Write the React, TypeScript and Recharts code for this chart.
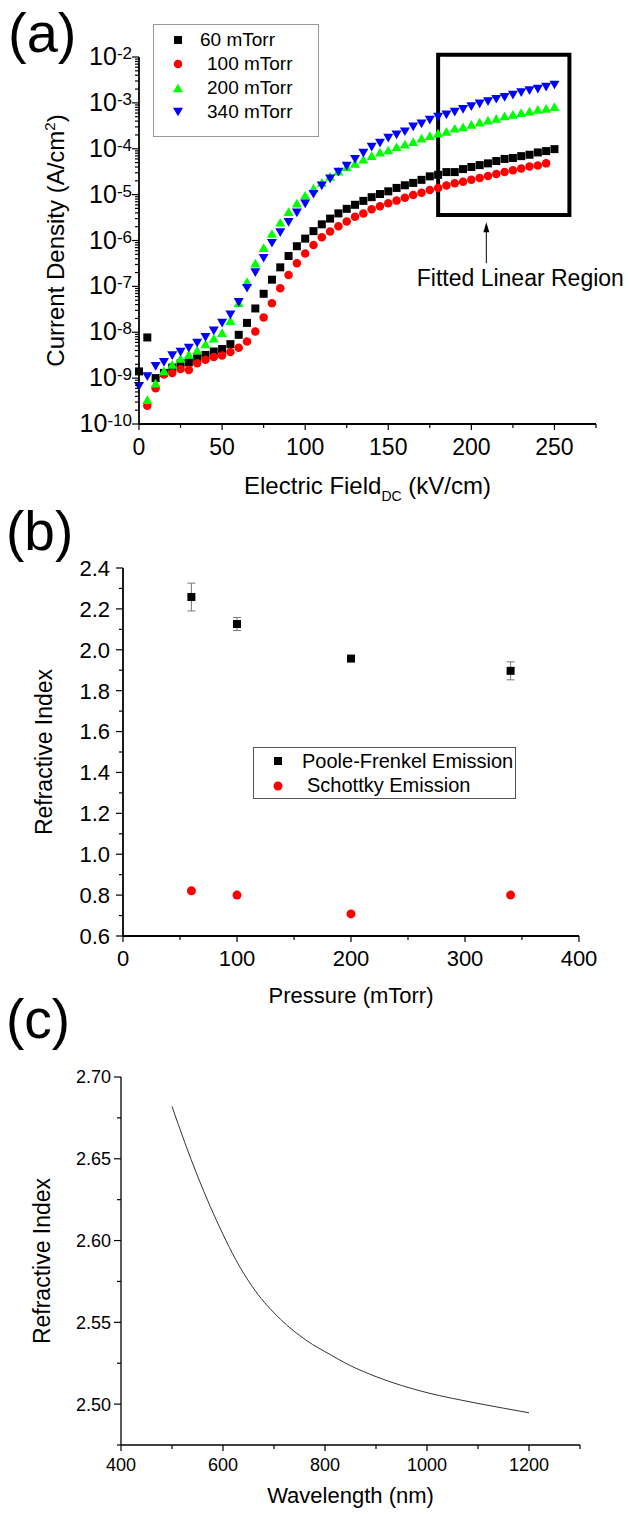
import React from "react";
import { ScatterChart, Scatter, LineChart, Line, XAxis, YAxis, ReferenceArea, ReferenceLine, ErrorBar, Label, Legend } from "recharts";

const FONT = "'Liberation Sans', Arial, Helvetica, sans-serif";

// (a) current density vs DC field
const fieldKV = [0, 5, 10, 15, 20, 25, 30, 35, 40, 45, 50, 55, 60, 65, 70, 75, 80, 85, 90, 95, 100, 105, 110, 115, 120, 125, 130, 135, 140, 145, 150, 155, 160, 165, 170, 175, 180, 185, 190, 195, 200, 205, 210, 215, 220, 225, 230, 235, 240, 245, 250];
const j60 = [1.4e-9, 7.7e-9, 1.0e-9, 1.3e-9, 1.7e-9, 2.1e-9, 2.2e-9, 2.7e-9, 3.2e-9, 3.8e-9, 4.3e-9, 5.5e-9, 8.8e-9, 1.6e-8, 3.3e-8, 6.9e-8, 1.4e-7, 2.6e-7, 4.6e-7, 7.5e-7, 1.1e-6, 1.6e-6, 2.25e-6, 3.0e-6, 3.9e-6, 4.9e-6, 6.0e-6, 7.3e-6, 8.8e-6, 1.03e-5, 1.18e-5, 1.4e-5, 1.6e-5, 1.8e-5, 2.1e-5, 2.5e-5, 2.7e-5, 3.1e-5, 3.1e-5, 3.6e-5, 4.0e-5, 4.4e-5, 4.8e-5, 5.4e-5, 6.0e-5, 6.3e-5, 6.9e-5, 7.4e-5, 8.3e-5, 8.9e-5, 9.8e-5];
const j100 = [null, 2.5e-10, 6.0e-10, 1.2e-9, 1.3e-9, 1.58e-9, 1.5e-9, 2.1e-9, 2.5e-9, 2.9e-9, 3.1e-9, 3.7e-9, 4.6e-9, 6.3e-9, 1.04e-8, 2.1e-8, 4.3e-8, 9.1e-8, 1.78e-7, 3.2e-7, 5.2e-7, 8.0e-7, 1.18e-6, 1.58e-6, 2.05e-6, 2.6e-6, 3.3e-6, 3.9e-6, 4.8e-6, 5.6e-6, 6.5e-6, 7.4e-6, 8.5e-6, 9.8e-6, 1.1e-5, 1.26e-5, 1.4e-5, 1.58e-5, 1.77e-5, 1.9e-5, 2.1e-5, 2.3e-5, 2.55e-5, 2.8e-5, 3.1e-5, 3.4e-5, 3.7e-5, 4.1e-5, 4.3e-5, 4.8e-5, null];
const j200 = [null, 3.4e-10, 7.8e-10, 1.44e-9, 2.0e-9, 2.7e-9, 3.3e-9, 4.1e-9, 5.6e-9, 7.4e-9, 9.8e-9, 1.8e-8, 4.4e-8, 1.27e-7, 3.2e-7, 7.0e-7, 1.42e-6, 2.5e-6, 4.25e-6, 6.5e-6, 9.7e-6, 1.38e-5, 1.85e-5, 2.5e-5, 3.25e-5, 4.05e-5, 4.8e-5, 5.9e-5, 7.1e-5, 8.4e-5, 9.4e-5, 1.11e-4, 1.26e-4, 1.43e-4, 1.7e-4, 1.94e-4, 2.18e-4, 2.4e-4, 2.8e-4, 3.0e-4, 3.4e-4, 3.8e-4, 4.2e-4, 4.6e-4, 5.2e-4, 5.6e-4, 6.1e-4, 6.6e-4, 7.2e-4, 7.6e-4, 8.3e-4];
const j340 = [6.6e-10, 1.08e-9, 1.8e-9, 2.2e-9, 3.1e-9, 3.7e-9, 4.5e-9, 5.8e-9, 7.7e-9, 1.07e-8, 1.58e-8, 2.4e-8, 4.5e-8, 9.1e-8, 2.0e-7, 4.1e-7, 8.7e-7, 1.48e-6, 2.48e-6, 4.0e-6, 6.3e-6, 1.02e-5, 1.55e-5, 2.2e-5, 3.1e-5, 4.2e-5, 5.9e-5, 8.0e-5, 1.08e-4, 1.32e-4, 1.7e-4, 2.0e-4, 2.35e-4, 3.0e-4, 3.5e-4, 4.2e-4, 4.9e-4, 5.5e-4, 6.3e-4, 7.2e-4, 8.3e-4, 9.5e-4, 1.07e-3, 1.2e-3, 1.32e-3, 1.48e-3, 1.67e-3, 1.85e-3, 2.0e-3, 2.2e-3, 2.45e-3];
const namesA = ["60 mTorr", "100 mTorr", "200 mTorr", "340 mTorr"];
const colorsA = ["#000000", "#ff0000", "#00ff00", "#0000ff"];
const shapesA = ["square", "circle", "up", "down"];
const fieldTicks = [0, 25, 50, 75, 100, 125, 150, 175, 200, 225, 250, 275];
const fieldLabels = [0, 50, 100, 150, 200, 250];
const decades = [-10, -9, -8, -7, -6, -5, -4, -3, -2];
const fitBoxField = [180, 259];
const fitBoxJ = [3.6e-6, 1.12e-2];
const arrowField = 209;
const arrowJ = [2.5e-6, 3.2e-7];

// (b) refractive index vs pressure
const pressure = [60, 100, 200, 340];
const pfIndex = [2.258, 2.126, 1.957, 1.897];
const pfErr = [0.068, 0.032, 0.004, 0.044];
const schottkyIndex = [0.821, 0.8, 0.708, 0.8];
const pressureTicks = [0, 50, 100, 150, 200, 250, 300, 350, 400];
const indexTicksB = [0.6, 0.7, 0.8, 0.9, 1.0, 1.1, 1.2, 1.3, 1.4, 1.5, 1.6, 1.7, 1.8, 1.9, 2.0, 2.1, 2.2, 2.3, 2.4];

// (c) dispersion
const wavelength = [500, 525, 550, 575, 600, 625, 650, 675, 700, 725, 750, 775, 800, 850, 900, 950, 1000, 1050, 1100, 1150, 1200];
const nDisp = [2.682, 2.66, 2.6395, 2.6208, 2.6038, 2.5883, 2.5753, 2.5645, 2.5558, 2.5483, 2.542, 2.5366, 2.5321, 2.5235, 2.5168, 2.5114, 2.507, 2.5035, 2.5004, 2.4975, 2.4947];
const wlTicks = [400, 500, 600, 700, 800, 900, 1000, 1100, 1200, 1300];
const indexTicksC = [2.475, 2.5, 2.525, 2.55, 2.575, 2.6, 2.625, 2.65, 2.675, 2.7];

const rowsA = [j60, j100, j200, j340].map((ys) =>
  ys.map((j, i) => ({ e: fieldKV[i], j })).filter((r) => r.j != null)
);
const logTicks: number[] = [];
decades.forEach((d) => {
  if (d === -2) logTicks.push(1e-2);
  else for (let m = 1; m <= 9; m++) logTicks.push(m * Math.pow(10, d));
});
const pfRows = pressure.map((p, i) => ({ p, n: pfIndex[i], err: pfErr[i] }));
const skRows = pressure.map((p, i) => ({ p, n: schottkyIndex[i] }));
const dispRows = wavelength.map((wl, i) => ({ wl, n: nDisp[i] }));

function Glyph({ kind, cx, cy, size, color }: any) {
  const h = size / 2;
  if (kind === "square") return <rect x={cx - h} y={cy - h} width={size} height={size} fill={color} />;
  if (kind === "circle") return <circle cx={cx} cy={cy} r={h} fill={color} />;
  if (kind === "up") return <polygon points={`${cx},${cy - h * 0.87} ${cx + h},${cy + h * 0.87} ${cx - h},${cy + h * 0.87}`} fill={color} />;
  return <polygon points={`${cx - h},${cy - h * 0.87} ${cx + h},${cy - h * 0.87} ${cx},${cy + h * 0.87}`} fill={color} />;
}

const sizesA: Record<string, number> = { square: 8, circle: 8.5, up: 10, down: 10 };

const LogTick = ({ x, y, payload }: any) => {
  const lg = Math.log10(payload.value);
  const major = Math.abs(lg - Math.round(lg)) < 1e-6;
  return (
    <g>
      <line x1={x} x2={x - (major ? 7 : 4)} y1={y} y2={y} stroke="#000" strokeWidth={1.2} />
      {major && (
        <text x={x - 7} y={y + 8} textAnchor="end" fontFamily={FONT} fill="#000">
          <tspan fontSize={25}>10</tspan>
          <tspan fontSize={17} dy={-6}>{Math.round(lg)}</tspan>
        </text>
      )}
    </g>
  );
};

const makeXTick = (isMajor: (v: number) => boolean, fmt: (v: number) => string, fs: number, dy: number) => ({ x, y, payload }: any) => {
  const v = payload.value;
  const major = isMajor(v);
  return (
    <g>
      <line x1={x} x2={x} y1={y} y2={y + (major ? 6 : 4)} stroke="#000" strokeWidth={1.2} />
      {major && (
        <text x={x} y={y + dy} textAnchor="middle" fontSize={fs} fontFamily={FONT} fill="#000">{fmt(v)}</text>
      )}
    </g>
  );
};

const makeYTick = (isMajor: (v: number) => boolean, fmt: (v: number) => string, fs: number, gap: number) => ({ x, y, payload }: any) => {
  const v = payload.value;
  const major = isMajor(v);
  return (
    <g>
      <line x1={x} x2={x - (major ? 7 : 4)} y1={y} y2={y} stroke="#000" strokeWidth={1.2} />
      {major && (
        <text x={x - gap} y={y + fs * 0.36} textAnchor="end" fontSize={fs} fontFamily={FONT} fill="#000">{fmt(v)}</text>
      )}
    </g>
  );
};

const FieldTick = makeXTick((v) => v % 50 === 0 && fieldLabels.includes(v), (v) => String(v), 23, 31);
const PressureTick = makeXTick((v) => v % 100 === 0, (v) => String(v), 22, 30);
const IndexTickB = makeYTick((v) => Math.round(v * 10) % 2 === 0, (v) => v.toFixed(1), 22, 13);
const WlTick = makeXTick((v) => v % 200 === 0 && v <= 1200, (v) => String(v), 18, 26);
const IndexTickC = makeYTick((v) => Math.round(v * 1000) % 50 === 0, (v) => v.toFixed(2), 18, 10);

const ArrowShape = (props: any) => {
  const { x1, y1, y2 } = props;
  const top = Math.min(y1, y2);
  const bottom = Math.max(y1, y2);
  return (
    <g>
      <line x1={x1} x2={x1} y1={top + 6} y2={bottom} stroke="#000" strokeWidth={1} />
      <polygon points={`${x1},${top} ${x1 - 3},${top + 10} ${x1 + 3},${top + 10}`} fill="#000" />
      <text x={x1 + 34} y={bottom + 23} textAnchor="middle" fontSize={23} fontFamily={FONT} fill="#000">Fitted Linear Region</text>
    </g>
  );
};

function LegendA() {
  return (
    <svg width={166} height={113} style={{ display: "block" }}>
      <rect x={0.5} y={0.5} width={165} height={112} fill="#fff" stroke="#999" />
      {namesA.map((name, i) => (
        <g key={name}>
          <Glyph kind={shapesA[i]} cx={25} cy={16 + i * 24} size={sizesA[shapesA[i]]} color={colorsA[i]} />
          <text x={i === 0 ? 47 : 54} y={22 + i * 24} fontSize={19} fontFamily={FONT} fill="#000">{name}</text>
        </g>
      ))}
    </svg>
  );
}

function LegendB() {
  return (
    <svg width={263} height={52} style={{ display: "block" }}>
      <rect x={0.5} y={0.5} width={262} height={51} fill="#fff" stroke="#555" />
      <Glyph kind="square" cx={25} cy={14} size={8} color="#000" />
      <text x={49} y={21} fontSize={20} fontFamily={FONT} fill="#000">Poole-Frenkel Emission</text>
      <Glyph kind="circle" cx={25} cy={39} size={9} color="#ff0000" />
      <text x={54} y={45} fontSize={20} fontFamily={FONT} fill="#000">Schottky Emission</text>
    </svg>
  );
}

const axisLine = { stroke: "#000", strokeWidth: 1.8 };

export default function App() {
  return (
    <div style={{ position: "absolute", left: 0, top: 0, width: 631, height: 1514, background: "#fff", overflow: "hidden", fontFamily: FONT }}>
      <svg width={631} height={1514} style={{ position: "absolute", left: 0, top: 0 }}>
        <text x={8} y={52} fontSize={56} fontFamily={FONT} fill="#000">(a)</text>
        <text x={6} y={550} fontSize={55} fontFamily={FONT} fill="#000">(b)</text>
        <text x={6} y={1038} fontSize={55} fontFamily={FONT} fill="#000">(c)</text>
      </svg>

      <div style={{ position: "absolute", left: 0, top: 0 }}>
        <ScatterChart width={631} height={520} margin={{ top: 57, right: 35, bottom: 36, left: 39 }}>
          <XAxis type="number" dataKey="e" domain={[0, 275]} ticks={fieldTicks} interval={0} tickSize={0} tickMargin={0} tickLine={false} axisLine={axisLine} tick={FieldTick} height={60}>
            <Label content={({ viewBox }: any) => (
              <text x={viewBox.x + viewBox.width / 2} y={494} textAnchor="middle" fontSize={24} fontFamily={FONT} fill="#000">
                Electric Field<tspan dy={7} fontSize={14}>DC</tspan><tspan dy={-7}> (kV/cm)</tspan>
              </text>
            )} />
          </XAxis>
          <YAxis type="number" dataKey="j" scale="log" domain={[1e-10, 1e-2]} ticks={logTicks} interval={0} tickSize={0} tickMargin={0} tickLine={false} axisLine={axisLine} tick={LogTick} width={100}>
            <Label content={({ viewBox }: any) => {
              const cy = viewBox.y + viewBox.height / 2;
              return (
                <text x={64} y={cy} transform={`rotate(-90, 64, ${cy})`} textAnchor="middle" fontSize={24} fontFamily={FONT} fill="#000">
                  Current Density (A/cm<tspan dy={-9} fontSize={15}>2</tspan><tspan dy={9}>)</tspan>
                </text>
              );
            }} />
          </YAxis>
          {rowsA.map((rows, i) => (
            <Scatter key={namesA[i]} name={namesA[i]} data={rows} fill={colorsA[i]} isAnimationActive={false}
              shape={(p: any) => <Glyph kind={shapesA[i]} cx={p.cx} cy={p.cy} size={sizesA[shapesA[i]]} color={colorsA[i]} />} />
          ))}
          <ReferenceArea x1={fitBoxField[0]} x2={fitBoxField[1]} y1={fitBoxJ[0]} y2={fitBoxJ[1]} fill="none" fillOpacity={0} stroke="#000" strokeWidth={4} ifOverflow="visible" />
          <ReferenceLine segment={[{ x: arrowField, y: arrowJ[0] }, { x: arrowField, y: arrowJ[1] }]} ifOverflow="visible" shape={ArrowShape} />
          <Legend layout="vertical" align="center" verticalAlign="middle" wrapperStyle={{ left: 153, top: 24, width: 166, height: 113 }} content={() => <LegendA />} />
        </ScatterChart>
      </div>

      <div style={{ position: "absolute", left: 0, top: 500 }}>
        <ScatterChart width={631} height={520} margin={{ top: 68, right: 52, bottom: 24, left: 33 }}>
          <XAxis type="number" dataKey="p" domain={[0, 400]} ticks={pressureTicks} interval={0} tickSize={0} tickMargin={0} tickLine={false} axisLine={axisLine} tick={PressureTick} height={60}>
            <Label content={({ viewBox }: any) => (
              <text x={viewBox.x + viewBox.width / 2} y={503} textAnchor="middle" fontSize={22} fontFamily={FONT} fill="#000">Pressure (mTorr)</text>
            )} />
          </XAxis>
          <YAxis type="number" dataKey="n" domain={[0.6, 2.4]} ticks={indexTicksB} interval={0} tickSize={0} tickMargin={0} tickLine={false} axisLine={axisLine} tick={IndexTickB} width={90}>
            <Label content={({ viewBox }: any) => {
              const cy = viewBox.y + viewBox.height / 2;
              return (
                <text x={52} y={cy} transform={`rotate(-90, 52, ${cy})`} textAnchor="middle" fontSize={23} fontFamily={FONT} fill="#000">Refractive Index</text>
              );
            }} />
          </YAxis>
          <Scatter name="Poole-Frenkel Emission" data={pfRows} fill="#000" isAnimationActive={false}
            shape={(p: any) => <Glyph kind="square" cx={p.cx} cy={p.cy} size={8} color="#000" />}>
            <ErrorBar dataKey="err" direction="y" width={4} stroke="#777" strokeWidth={1} />
          </Scatter>
          <Scatter name="Schottky Emission" data={skRows} fill="#ff0000" isAnimationActive={false}
            shape={(p: any) => <Glyph kind="circle" cx={p.cx} cy={p.cy} size={9} color="#ff0000" />} />
          <Legend layout="vertical" align="center" verticalAlign="middle" wrapperStyle={{ left: 253, top: 247, width: 263, height: 52 }} content={() => <LegendB />} />
        </ScatterChart>
      </div>

      <div style={{ position: "absolute", left: 0, top: 1020 }}>
        <LineChart width={631} height={494} data={dispRows} margin={{ top: 57, right: 51, bottom: 9, left: 31 }}>
          <XAxis type="number" dataKey="wl" domain={[400, 1300]} ticks={wlTicks} interval={0} tickSize={0} tickMargin={0} tickLine={false} axisLine={{ stroke: "#000", strokeWidth: 1.3 }} tick={WlTick} height={60}>
            <Label content={({ viewBox }: any) => (
              <text x={viewBox.x + viewBox.width / 2} y={483} textAnchor="middle" fontSize={22} fontFamily={FONT} fill="#000">Wavelength (nm)</text>
            )} />
          </XAxis>
          <YAxis type="number" domain={[2.475, 2.7]} ticks={indexTicksC} interval={0} tickSize={0} tickMargin={0} tickLine={false} axisLine={{ stroke: "#000", strokeWidth: 1.3 }} tick={IndexTickC} width={90}>
            <Label content={({ viewBox }: any) => {
              const cy = viewBox.y + viewBox.height / 2;
              return (
                <text x={50} y={cy} transform={`rotate(-90, 50, ${cy})`} textAnchor="middle" fontSize={23} fontFamily={FONT} fill="#000">Refractive Index</text>
              );
            }} />
          </YAxis>
          <Line dataKey="n" type="monotone" stroke="#333" strokeWidth={1} dot={false} isAnimationActive={false} />
        </LineChart>
      </div>
    </div>
  );
}
